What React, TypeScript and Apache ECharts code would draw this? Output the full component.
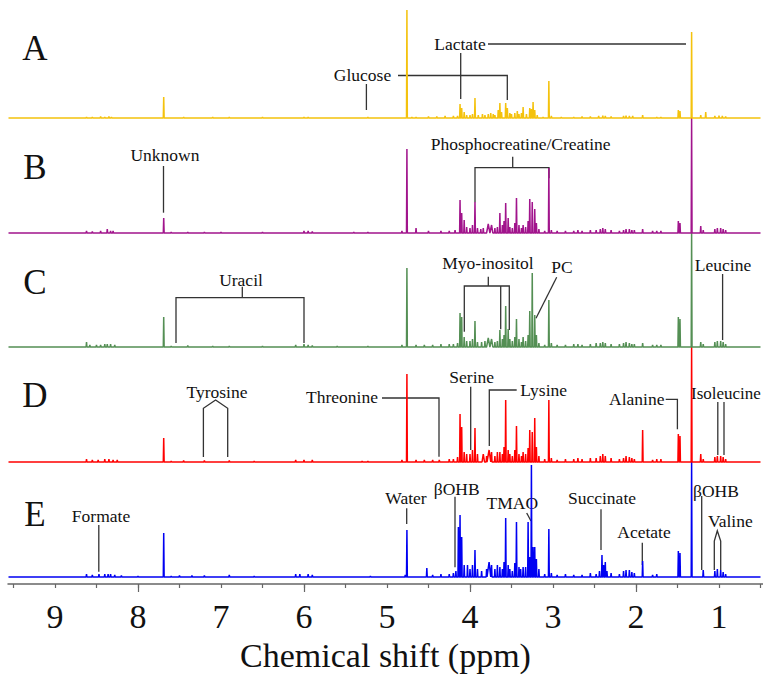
import React, { useEffect, useRef } from "react";
import * as echarts from "echarts";

// ---- axis ----
const PPM_LEFT = 9.566;
const PPM_RIGHT = 0.47;
const SPECTRUM_START = 9.56;
const SPECTRUM_END = 0.5;
const tickLabelValues = [9, 8, 7, 6, 5, 4, 3, 2, 1];
const minorTickValues = [9.5, 9, 8.5, 8, 7.5, 7, 6.5, 6, 5.5, 5, 4.5, 4, 3.5, 3, 2.5, 2, 1.5, 1, 0.5];
const majorTickValues = [8, 6, 4, 2];
const axisTitle = "Chemical shift (ppm)";

// ---- spectra: [ppm, intensity, optional half-width in ppm] ----
const spectrumNames = ["A", "B", "C", "D", "E"];

const peaksA: number[][] = [
  [8.62, 1], [8.55, 1], [8.45, 1.5], [8.4, 1], [8.35, 1.5], [8.32, 1], [7.69, 21], [7.45, 1], [7.1, 1],
  [6.9, 1], [6.5, 0.8], [6.0, 1], [5.95, 1], [5.4, 0.5], [5.23, 1], [4.76, 108], [4.7, 1], [4.65, 1],
  [4.5, 1.5], [4.4, 1.5], [4.3, 2], [4.2, 2], [4.15, 2], [4.12, 14], [4.1, 10], [4.07, 6], [4.04, 3],
  [4.0, 3], [3.97, 4], [3.94, 20], [3.9, 3], [3.85, 4], [3.82, 3], [3.78, 4], [3.75, 5], [3.72, 4],
  [3.7, 3], [3.66, 8], [3.64, 15], [3.62, 6], [3.57, 15], [3.55, 10], [3.52, 5], [3.5, 4], [3.46, 5],
  [3.43, 7], [3.41, 4], [3.38, 5], [3.36, 11], [3.32, 4], [3.28, 10], [3.26, 9], [3.24, 16], [3.22, 8],
  [3.19, 3], [3.12, 1], [3.05, 37], [3.02, 2], [2.9, 1], [2.75, 1], [2.65, 1.5], [2.55, 1.5], [2.45, 2],
  [2.4, 2.5], [2.37, 2], [2.3, 1.5], [2.15, 2], [2.12, 2.5], [2.08, 2], [2.04, 2], [1.92, 3], [1.75, 1],
  [1.7, 1], [1.49, 8], [1.47, 7], [1.33, 86], [1.22, 3], [1.16, 6], [1.05, 2], [1.0, 2.5], [0.96, 2],
  [0.92, 1.5],
];

const peaksB: number[][] = [
  [8.62, 2], [8.55, 1.5], [8.45, 2], [8.37, 4], [8.33, 2], [8.3, 2], [7.69, 15], [7.6, 1], [7.4, 1],
  [7.2, 1], [7.0, 1], [6.5, 1], [6.0, 2], [5.95, 2], [5.9, 1.5], [5.4, 1], [5.23, 1], [4.82, 2],
  [4.76, 84], [4.65, 5], [4.5, 2], [4.35, 2], [4.25, 2], [4.18, 3], [4.12, 33], [4.1, 20], [4.07, 13],
  [4.04, 6], [4.0, 5], [3.97, 8], [3.94, 31], [3.91, 5], [3.87, 4], [3.84, 5], [3.78, 9, 0.02],
  [3.74, 8, 0.015], [3.7, 5], [3.67, 6], [3.64, 20], [3.61, 8], [3.59, 12], [3.57, 30], [3.54, 15],
  [3.52, 6], [3.49, 5], [3.46, 10], [3.44, 35], [3.41, 8], [3.38, 5], [3.36, 8], [3.33, 6], [3.3, 12],
  [3.28, 34], [3.25, 31], [3.22, 24], [3.2, 10], [3.17, 4], [3.1, 2], [3.05, 65], [3.02, 3], [2.95, 2],
  [2.85, 2], [2.75, 2], [2.7, 3], [2.65, 2], [2.55, 3], [2.48, 3], [2.43, 4], [2.4, 5], [2.37, 4],
  [2.3, 3], [2.2, 2], [2.15, 3], [2.12, 4], [2.08, 4], [2.05, 3], [2.02, 3], [1.92, 4], [1.8, 2],
  [1.75, 2], [1.7, 2], [1.49, 12], [1.47, 10], [1.33, 115], [1.22, 7], [1.19, 3], [1.05, 4], [1.02, 5],
  [0.98, 5], [0.95, 4], [0.92, 3],
];

const peaksC: number[][] = [
  [8.62, 5], [8.58, 2], [8.5, 2], [8.45, 2], [8.4, 3], [8.37, 3], [8.33, 3], [8.28, 2], [7.69, 30],
  [7.6, 1], [7.4, 1.5], [7.1, 1], [6.9, 1], [6.5, 1], [6.1, 2], [6.0, 3], [5.95, 2], [5.9, 1.5],
  [5.6, 1], [5.23, 1], [4.82, 2], [4.76, 79], [4.65, 2], [4.55, 2], [4.45, 2], [4.35, 3], [4.25, 3],
  [4.2, 3], [4.15, 4], [4.12, 34], [4.1, 30], [4.07, 10], [4.04, 6], [4.0, 6], [3.97, 8], [3.94, 26],
  [3.91, 5], [3.86, 5], [3.82, 6], [3.78, 9, 0.02], [3.74, 8, 0.015], [3.7, 5], [3.67, 6], [3.64, 17],
  [3.61, 8], [3.59, 12], [3.57, 41], [3.54, 18], [3.52, 8], [3.49, 6], [3.46, 10], [3.44, 28], [3.41, 8],
  [3.38, 5], [3.36, 10], [3.33, 6], [3.3, 12], [3.28, 36], [3.25, 74], [3.22, 32], [3.2, 12], [3.17, 4],
  [3.1, 2], [3.05, 47], [3.02, 4], [2.95, 2], [2.85, 2], [2.75, 3], [2.7, 3], [2.65, 2], [2.55, 3],
  [2.48, 4], [2.43, 4], [2.4, 5], [2.37, 4], [2.3, 3], [2.2, 3], [2.15, 4], [2.12, 5], [2.08, 4],
  [2.05, 3], [2.02, 3], [1.92, 4], [1.8, 2], [1.75, 2], [1.7, 2], [1.49, 30], [1.47, 28], [1.33, 114],
  [1.22, 5], [1.19, 3], [1.05, 5], [1.02, 6], [0.98, 6], [0.95, 5], [0.92, 3],
];

const peaksD: number[][] = [
  [8.62, 3], [8.55, 2], [8.48, 2], [8.4, 3], [8.35, 3], [8.3, 2], [8.25, 2], [7.69, 24], [7.6, 1],
  [7.45, 1.5], [7.2, 1.5], [6.9, 1.5], [6.6, 1], [6.1, 2], [6.0, 2], [5.9, 2], [5.3, 1], [5.23, 1],
  [4.82, 2], [4.76, 88], [4.65, 2], [4.55, 2], [4.45, 2], [4.37, 2], [4.25, 3], [4.2, 3], [4.15, 5],
  [4.12, 48], [4.1, 35], [4.07, 10], [4.04, 8], [4.0, 8], [3.97, 12], [3.94, 34], [3.91, 8],
  [3.84, 8, 0.015], [3.8, 6], [3.77, 12, 0.02], [3.74, 10], [3.7, 6], [3.67, 10], [3.64, 10], [3.61, 8],
  [3.59, 15], [3.57, 62], [3.54, 12], [3.52, 8], [3.49, 6], [3.46, 12], [3.44, 36], [3.41, 8], [3.38, 6],
  [3.36, 10], [3.33, 8], [3.3, 14], [3.28, 32], [3.25, 30], [3.22, 44], [3.2, 15], [3.17, 6], [3.1, 3],
  [3.05, 62], [3.02, 4], [2.95, 2], [2.85, 3], [2.75, 3], [2.7, 4], [2.65, 3], [2.55, 4], [2.48, 4],
  [2.43, 6], [2.4, 8], [2.37, 6], [2.3, 4], [2.2, 3], [2.15, 4], [2.12, 6], [2.08, 5], [2.05, 4],
  [2.02, 3], [1.92, 32], [1.8, 2], [1.75, 3], [1.7, 3], [1.49, 28], [1.47, 26], [1.33, 115], [1.22, 8],
  [1.19, 3], [1.05, 5], [1.02, 6], [0.98, 6], [0.95, 5], [0.92, 3],
];

const peaksE: number[][] = [
  [8.62, 3], [8.55, 2], [8.47, 3], [8.4, 3], [8.36, 3], [8.33, 3], [8.28, 2], [8.2, 1.5], [8.0, 1],
  [7.69, 44], [7.6, 1], [7.5, 1.5], [7.35, 1.5], [7.2, 1.5], [6.9, 2], [6.6, 1], [6.1, 3], [6.05, 3],
  [5.95, 3], [5.9, 2], [5.2, 1], [4.78, 2], [4.76, 47], [4.52, 9], [4.45, 2], [4.35, 3], [4.25, 3],
  [4.2, 4], [4.17, 6], [4.14, 50], [4.12, 62], [4.1, 40], [4.07, 12], [4.03, 12], [4.0, 8], [3.97, 12],
  [3.94, 27], [3.91, 8], [3.86, 6], [3.8, 8], [3.77, 15, 0.02], [3.74, 12], [3.7, 8], [3.67, 12],
  [3.64, 10], [3.61, 8], [3.59, 15], [3.57, 59], [3.54, 12], [3.52, 8], [3.49, 6], [3.46, 14],
  [3.44, 55], [3.41, 10], [3.39, 8], [3.36, 10], [3.33, 10], [3.3, 55], [3.28, 20], [3.26, 112],
  [3.24, 30], [3.22, 30], [3.2, 18], [3.17, 8], [3.1, 3], [3.05, 48], [3.02, 4], [2.95, 2], [2.85, 3],
  [2.75, 2], [2.65, 2], [2.55, 4], [2.48, 3], [2.44, 6], [2.41, 22], [2.39, 12], [2.37, 15], [2.35, 6],
  [2.3, 4], [2.2, 3], [2.15, 6], [2.12, 7], [2.08, 7], [2.05, 5], [2.02, 4], [1.92, 16], [1.8, 2],
  [1.75, 3], [1.49, 26], [1.47, 24], [1.33, 115], [1.19, 7], [1.05, 6], [1.02, 8], [0.98, 7],
  [0.95, 5], [0.92, 3],
];

const allPeaks = [peaksA, peaksB, peaksC, peaksD, peaksE];

// ---- styles / layout (not data) ----
const COLORS = ["#F4C20D", "#A1148C", "#548F54", "#FF0000", "#0000F2"];
const OFFSETS = [466, 351, 237, 122, 7]; // stacking offsets in plot units
const Y_MAX = 584;
const SERIF = "'Liberation Serif', 'Times New Roman', serif";
const DEFAULT_HALF_WIDTH = 0.005;

function buildSeriesData(peaks: number[][], offset: number): number[][] {
  const sorted = [...peaks].sort((a, b) => b[0] - a[0]);
  const pts: number[][] = [[SPECTRUM_START, offset]];
  for (const p of sorted) {
    const w = p[2] ?? DEFAULT_HALF_WIDTH;
    pts.push([p[0] + w, offset], [p[0], offset + p[1]], [p[0] - w, offset]);
  }
  pts.push([SPECTRUM_END, offset]);
  return pts;
}

// annotation labels: [text, x, y, align, fontSize]
const annotationTexts: [string, number, number, string, number][] = [
  ["Lactate", 460, 44, "center", 17.5],
  ["Glucose", 362.5, 75, "center", 17.5],
  ["Unknown", 165, 155, "center", 17.5],
  ["Phosphocreatine/Creatine", 520.7, 144, "center", 17.5],
  ["Uracil", 241, 280, "center", 17.5],
  ["Myo-inositol", 488, 263.3, "center", 17.5],
  ["PC", 562, 267.3, "center", 17.5],
  ["Leucine", 723, 265, "center", 17.5],
  ["Tyrosine", 217, 391.7, "center", 17.5],
  ["Threonine", 342, 397.3, "center", 17.5],
  ["Serine", 471.7, 376.7, "center", 17.5],
  ["Lysine", 543.7, 390, "center", 17.5],
  ["Alanine", 636.7, 399.3, "center", 17.5],
  ["Isoleucine", 691, 393.3, "left", 17],
  ["Formate", 101, 515.7, "center", 17.5],
  ["Water", 406, 498.3, "center", 17.5],
  ["βOHB", 456.7, 489.3, "center", 17.5],
  ["TMAO", 512.3, 503.3, "center", 17.5],
  ["Succinate", 602, 498.3, "center", 17.5],
  ["Acetate", 644, 531.7, "center", 17.5],
  ["βOHB", 716, 490.7, "center", 17.5],
  ["Valine", 730.3, 520.7, "center", 17.5],
];

const annotationLines: number[][][] = [
  [[488, 44], [686, 44]],
  [[460.7, 53], [460.7, 99]],
  [[398, 75.5], [507.3, 75.5], [507.3, 100]],
  [[366.4, 84], [366.4, 110]],
  [[163.5, 166], [163.5, 212.7]],
  [[512.7, 156.7], [512.7, 167.7]],
  [[475, 202.3], [475, 167.7], [549, 167.7], [549, 178.3]],
  [[242.3, 286.7], [242.3, 297.7]],
  [[176, 343], [176, 297.7], [304, 297.7], [304, 343]],
  [[488.3, 276.7], [488.3, 286]],
  [[464.3, 331.7], [464.3, 286], [509.3, 286], [509.3, 330]],
  [[500.7, 286], [500.7, 329.3]],
  [[556.7, 277.3], [536, 318.3]],
  [[722.6, 274], [722.6, 340]],
  [[203.4, 457], [203.4, 408.3], [215.6, 400], [227.7, 408.3], [227.7, 457]],
  [[382, 398], [439, 398], [439, 456.7]],
  [[470.7, 386.7], [470.7, 450]],
  [[516.7, 390], [489.3, 390], [489.3, 446]],
  [[665.7, 399.3], [677.4, 399.3], [677.4, 429.3]],
  [[717.8, 402], [717.8, 455]],
  [[724, 402], [724, 455]],
  [[98.8, 525], [98.8, 571.7]],
  [[406.7, 508.3], [406.7, 524]],
  [[455, 496.7], [455, 567.3]],
  [[526.7, 513], [531, 521]],
  [[601, 509.3], [601, 550]],
  [[642.3, 542.7], [642.3, 565]],
  [[701.7, 496], [701.7, 570]],
  [[714.3, 570], [714.3, 541], [717.3, 530.7], [720.7, 541], [720.7, 570]],
];

const panelLetterPos: number[][] = [
  [35, 48.5], [35, 167], [35, 282], [35, 395.5], [35, 514],
];

export default function App() {
  const ref = useRef<HTMLDivElement>(null);

  useEffect(() => {
    if (!ref.current) return;
    const chart = echarts.init(ref.current, null, { renderer: "svg" });

    const series = allPeaks.map((peaks, i) => ({
      name: spectrumNames[i],
      type: "line",
      data: buildSeriesData(peaks, OFFSETS[i]),
      showSymbol: false,
      symbol: "none",
      silent: true,
      z: 2 + (4 - i),
      lineStyle: { color: COLORS[i], width: 1.5 },
      itemStyle: { color: COLORS[i] },
    }));

    const graphic: any[] = [];
    spectrumNames.forEach((n, i) => {
      graphic.push({
        type: "text",
        x: panelLetterPos[i][0],
        y: panelLetterPos[i][1],
        silent: true,
        style: {
          text: n,
          fontSize: 35,
          fontFamily: SERIF,
          fill: "#111",
          align: "center",
          verticalAlign: "middle",
        },
      });
    });
    annotationTexts.forEach(([t, x, y, align, fs]) => {
      graphic.push({
        type: "text",
        x,
        y,
        silent: true,
        style: {
          text: t,
          fontSize: fs,
          fontFamily: SERIF,
          fill: "#111",
          align,
          verticalAlign: "middle",
        },
      });
    });
    annotationLines.forEach((pts) => {
      graphic.push({
        type: "polyline",
        silent: true,
        shape: { points: pts },
        style: { stroke: "#333", lineWidth: 1.3, fill: null },
      });
    });

    chart.setOption({
      animation: false,
      backgroundColor: "#ffffff",
      grid: { left: 8, right: 0, top: 0, bottom: 95, containLabel: false },
      xAxis: [
        {
          type: "value",
          min: PPM_RIGHT,
          max: PPM_LEFT,
          inverse: true,
          position: "bottom",
          axisLine: { show: true, lineStyle: { color: "#666", width: 1.5 } },
          axisTick: {
            show: true,
            customValues: minorTickValues,
            length: 4,
            lineStyle: { color: "#666", width: 1.2 },
          },
          axisLabel: {
            customValues: tickLabelValues,
            fontSize: 34,
            fontFamily: SERIF,
            color: "#111",
            margin: 15,
          },
          splitLine: { show: false },
          name: axisTitle,
          nameLocation: "middle",
          nameGap: 54,
          nameTextStyle: { fontSize: 34, fontFamily: SERIF, color: "#111" },
        },
        {
          type: "value",
          min: PPM_RIGHT,
          max: PPM_LEFT,
          inverse: true,
          position: "bottom",
          axisLine: { show: false },
          axisTick: {
            show: true,
            customValues: majorTickValues,
            length: 8,
            lineStyle: { color: "#666", width: 1.2 },
          },
          axisLabel: { show: false },
          splitLine: { show: false },
        },
      ],
      yAxis: { type: "value", min: 0, max: Y_MAX, show: false, splitLine: { show: false } },
      series,
      graphic,
    });

    return () => chart.dispose();
  }, []);

  return (
    <div
      ref={ref}
      style={{ position: "absolute", left: 0, top: 0, width: 763, height: 679, background: "#fff" }}
    />
  );
}
